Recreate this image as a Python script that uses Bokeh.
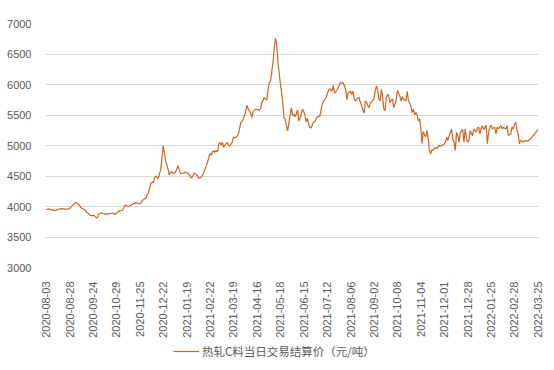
import math
from bokeh.plotting import figure
from bokeh.layouts import column
from bokeh.models import Range1d, FixedTicker, Legend, LegendItem, ColumnDataSource
from bokeh.embed import file_html
from bokeh.resources import INLINE

SERIES_NAME = "热轧C料当日交易结算价（元/吨）"

DATE_LABELS = [
    "2020-08-03", "2020-08-28", "2020-09-24", "2020-10-29", "2020-11-25",
    "2020-12-22", "2021-01-19", "2021-02-22", "2021-03-19", "2021-04-16",
    "2021-05-18", "2021-06-15", "2021-07-12", "2021-08-06", "2021-09-02",
    "2021-10-08", "2021-11-04", "2021-12-01", "2021-12-28", "2022-01-25",
    "2022-02-28", "2022-03-25",
]
LABEL_STEP = 19  # trading days between labelled dates

Y_TICKS = [3000, 3500, 4000, 4500, 5000, 5500, 6000, 6500, 7000]

# daily settlement prices (yuan / tonne)
prices_2020_q3 = [
    3950, 3955, 3960, 3955, 3950, 3945, 3940, 3935, 3940, 3950,
    3955, 3960, 3960, 3965, 3960, 3958, 3960, 3955, 3960, 3965,
    3990, 4010, 4030, 4045, 4065, 4060, 4040, 4020, 3985, 3970,
    3960, 3950, 3935, 3900, 3890, 3870, 3855, 3850, 3852, 3850,
    3830, 3810, 3840, 3880, 3890, 3895, 3885, 3880, 3870, 3875,
    3880, 3880, 3885, 3890, 3895, 3880, 3870, 3895, 3910, 3920,
    3930, 3935, 3940, 3980, 4025, 4015, 4005, 4000, 4010, 4030,
    4035,
]
prices_2020_q4 = [
    4045, 4055, 4060, 4058, 4050, 4040, 4060, 4100, 4110, 4130,
    4140, 4200, 4215, 4300, 4380, 4400, 4385, 4470, 4500, 4480,
    4460, 4540, 4600, 4800, 5000, 4870, 4740, 4680, 4600, 4520,
    4560, 4570, 4545, 4550, 4570, 4610, 4670, 4600, 4545, 4540,
    4545, 4555, 4565, 4560, 4540, 4525, 4500, 4465, 4500, 4550,
    4535, 4520, 4500, 4465, 4470, 4490, 4515, 4560, 4620, 4670,
    4730, 4800, 4865, 4845, 4900, 4905, 4890, 4920, 4895, 5020,
    5050,
]
prices_2021_h1 = [
    5010, 5050, 4975, 5000, 5030, 5050, 5010, 4990, 5020, 5050,
    5140, 5130, 5125, 5160, 5190, 5280, 5380, 5400, 5435, 5500,
    5560, 5660, 5600, 5560, 5530, 5460, 5560, 5580, 5595, 5590,
    5585, 5580, 5605, 5700, 5740, 5785, 5760, 5745, 5900, 6025,
    6050, 6200, 6350, 6565, 6755, 6680, 6400, 6200, 6030, 5880,
    5700, 5450, 5430, 5330, 5240, 5370, 5500, 5620, 5490, 5510,
    5470, 5520, 5585, 5400, 5440, 5520, 5595, 5560, 5500, 5390,
    5445, 5340, 5300, 5285, 5340, 5385, 5390, 5430,
]
prices_2021_q3 = [
    5475, 5470, 5480, 5570, 5680, 5720, 5760, 5780, 5835, 5900,
    5930, 5910, 5890, 5985, 5860, 5880, 5910, 5945, 6000, 6040,
    6020, 6030, 5980, 5920, 5750, 5860, 5880, 5890, 5835, 5890,
    5760, 5730, 5760, 5780, 5785, 5700, 5650, 5580, 5530, 5730,
    5710, 5650, 5620, 5700, 5710, 5740, 5765, 5890, 5975, 5910,
    5760, 5730, 5920, 5800, 5600, 5570, 5785, 5835, 5820, 5700,
    5740, 5765, 5620, 5675, 5740, 5905, 5850, 5810, 5730, 5800,
    5760, 5745, 5730, 5890, 5730, 5690, 5640, 5540, 5595, 5500,
]
prices_2021_q4 = [
    5540, 5500, 5400, 5440, 5300, 5030, 5230, 5170, 5140, 5245,
    5110, 4920, 4865, 4935, 4920, 4950, 4970, 4950, 4980, 5000,
    4990, 5000, 5010, 5025, 5055, 5135, 5080, 5160, 5210, 5270,
    5100, 5050, 4920, 5215, 5160, 5055, 5200, 5245, 5260, 5055,
    5270, 5120, 5055, 5080, 5245, 5200, 5160, 5270, 5245, 5220,
]
prices_2022_q1 = [
    5290, 5300, 5190, 5280, 5325, 5260, 5300, 5335, 5030, 5210,
    5300, 5335, 5270, 5290, 5300, 5190, 5300, 5270, 5300, 5325,
    5270, 5300, 5280, 5270, 5325, 5165, 5180, 5190, 5300, 5270,
    5340, 5385, 5250, 5190, 5030, 5080, 5070, 5060, 5070, 5080,
    5075, 5070, 5095, 5110, 5135, 5160, 5180, 5205, 5230, 5260,
]

prices = (prices_2020_q3 + prices_2020_q4 + prices_2021_h1 +
          prices_2021_q3 + prices_2021_q4 + prices_2022_q1)
idx = list(range(len(prices)))
n = len(prices)

LINE_COLOR = "#CD6524"
TEXT_COLOR = "#595959"
GRID_COLOR = "#D9D9D9"

src = ColumnDataSource(data=dict(x=idx, y=prices))

# ---- main chart ----
p = figure(width=546, height=340, output_backend="svg", toolbar_location=None,
           x_range=Range1d(-0.5, n - 0.5), y_range=Range1d(Y_TICKS[0], Y_TICKS[-1]),
           min_border_left=45, min_border_right=8, min_border_top=23,
           min_border_bottom=70, background_fill_color="white",
           border_fill_color="white")
p.outline_line_color = None
p.line("x", "y", source=src, line_color=LINE_COLOR, line_width=1.2)

tick_pos = [i * LABEL_STEP for i in range(len(DATE_LABELS))]
p.xaxis.ticker = FixedTicker(ticks=tick_pos)
p.xaxis.major_label_overrides = {t: lab for t, lab in zip(tick_pos, DATE_LABELS)}
p.xaxis.major_label_orientation = math.pi / 2
p.yaxis.ticker = FixedTicker(ticks=Y_TICKS)

for ax in (p.xaxis, p.yaxis):
    ax.axis_line_color = None
    ax.major_tick_line_color = None
    ax.minor_tick_line_color = None
    ax.major_label_text_color = TEXT_COLOR
    ax.major_label_text_font = "Liberation Sans"
    ax.major_label_text_font_size = "11px"
    ax.major_label_standoff = 8

p.xgrid.grid_line_color = None
p.ygrid.grid_line_color = GRID_COLOR
p.ygrid.grid_line_width = 1
p.ygrid.ticker = FixedTicker(ticks=Y_TICKS)

# ---- legend strip below the chart ----
lg = figure(width=546, height=22, output_backend="svg", toolbar_location=None,
            x_range=Range1d(0, 1), y_range=Range1d(0, 1),
            x_axis_location=None, y_axis_location=None,
            min_border_left=0, min_border_right=0, min_border_top=0,
            min_border_bottom=0, background_fill_color="white",
            border_fill_color="white")
lg.grid.visible = False
lg.outline_line_color = None
# same series, off-screen in this strip, only used as the legend's glyph
r_leg = lg.line("x", "y", source=src, line_color=LINE_COLOR, line_width=1.2)

legend = Legend(items=[LegendItem(label=SERIES_NAME, renderers=[r_leg])],
                orientation="horizontal", location=(128, 3),
                border_line_color=None, background_fill_alpha=0,
                label_text_font="Noto Sans CJK SC", label_text_font_size="11.5px",
                label_text_color=TEXT_COLOR, glyph_width=26, glyph_height=12,
                label_height=12, padding=2, margin=0, label_standoff=3)
lg.add_layout(legend, "center")

layout = column(p, lg, spacing=0)
open("out.html", "w").write(file_html(layout, INLINE))
